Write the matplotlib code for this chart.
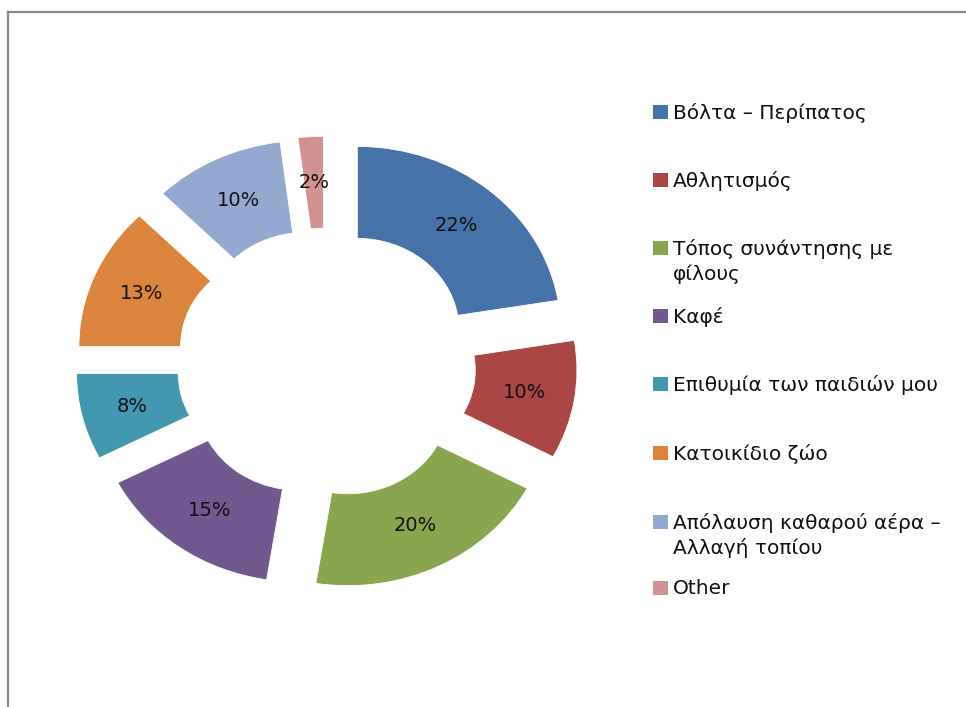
import matplotlib
matplotlib.use("Agg")
import matplotlib.pyplot as plt
from matplotlib.patches import Rectangle
from matplotlib.lines import Line2D
import numpy as np

# Data (slice angles suggest unrounded shares)
labels = [
    "Βόλτα – Περίπατος",
    "Αθλητισμός",
    "Τόπος συνάντησης με\nφίλους",
    "Καφέ",
    "Επιθυμία των παιδιών μου",
    "Κατοικίδιο ζώο",
    "Απόλαυση καθαρού αέρα –\nΑλλαγή τοπίου",
    "Other",
]
values = [22.4, 10.4, 19.7, 14.9, 7.6, 12.6, 10.4, 2.0]
colors = ["#4572A7", "#AA4643", "#89A54E", "#71588F",
          "#4198AF", "#DB843D", "#93A9CF", "#D19392"]

W, H = 966, 707
fig = plt.figure(figsize=(W / 100, H / 100), dpi=100)
plt.rcParams['font.family'] = ['DejaVu Sans']

# Chart frame (only left and top edges visible)
fig.add_artist(Line2D([8 / W, 8 / W], [0, 1 - 12 / H], transform=fig.transFigure,
                      color="#8a8a8a", lw=1.6))
fig.add_artist(Line2D([8 / W, 1], [1 - 12 / H, 1 - 12 / H], transform=fig.transFigure,
                      color="#8a8a8a", lw=1.6))

# Pie axes: the reference is stretched horizontally, so aspect is not equal
cx, cy = 326.4, H - 363.2
rx, ry = 203.4, 183.8
ax = fig.add_axes([(cx - 1.5 * rx) / W, (cy - 1.5 * ry) / H, 3 * rx / W, 3 * ry / H])

wedges, _ = ax.pie(values, colors=colors, startangle=90, counterclock=False,
                   explode=[0.235] * len(values), radius=1,
                   wedgeprops=dict(width=0.5, edgecolor="white", linewidth=0.6))
ax.set_aspect("auto")
ax.set_xlim(-1.5, 1.5)
ax.set_ylim(-1.5, 1.5)
ax.axis("off")

# Percentage labels in the middle of each ring segment
for w, v in zip(wedges, values):
    ang = np.deg2rad((w.theta1 + w.theta2) / 2)
    x = w.center[0] + 0.75 * np.cos(ang)
    y = w.center[1] + 0.75 * np.sin(ang)
    ax.text(x, y, f"{v:.0f}%", ha="center", va="center", fontsize=14, color="#111111")

# Legend drawn by hand to mimic Excel layout
leg_y = [112, 180, 248, 316, 384, 453, 522, 588]
for lab, col, yy in zip(labels, colors, leg_y):
    fig.add_artist(Rectangle((653 / W, 1 - (yy + 7) / H), 15 / W, 14 / H,
                             transform=fig.transFigure, facecolor=col, edgecolor="none"))
    fig.text(673 / W, 1 - (yy - 9) / H, lab, ha="left", va="top",
             fontsize=14.5, color="#111111", linespacing=1.34)

fig.savefig("out.png", dpi=100)
